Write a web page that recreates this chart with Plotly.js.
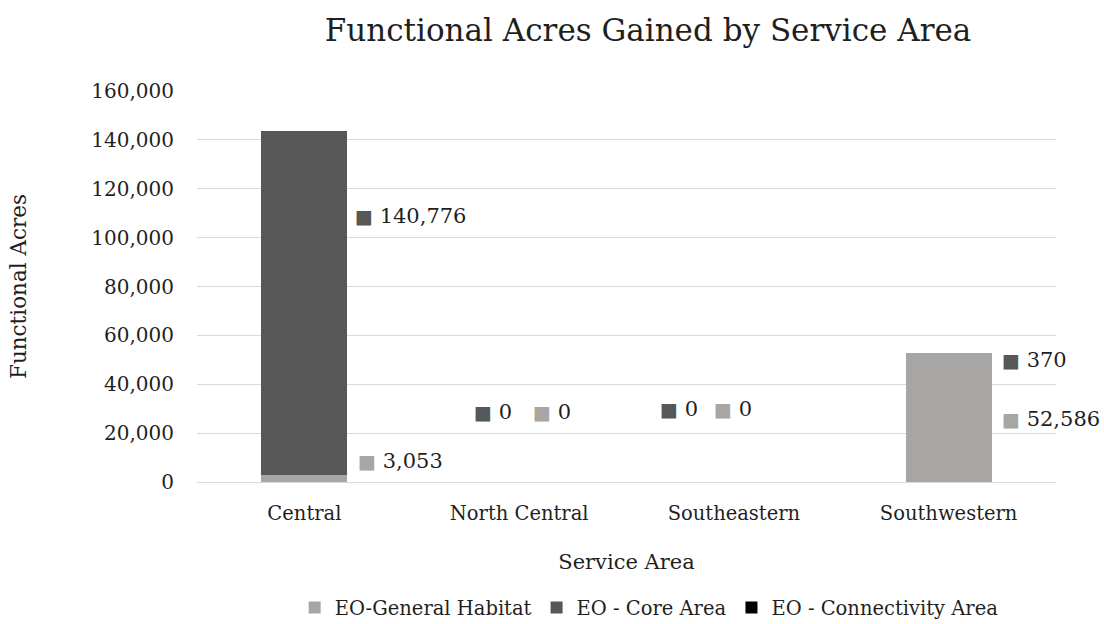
<!DOCTYPE html>
<html>
<head>
<meta charset="utf-8">
<script src="https://cdn.plot.ly/plotly-3.0.1.min.js"></script>
<style>
  html, body { margin: 0; padding: 0; background: #ffffff; }
  #chart { width: 1104px; height: 624px; }
</style>
</head>
<body>
<div id="chart"></div>
<script>
// Functional acres gained, per service area and habitat type
const categories = ['Central', 'North Central', 'Southeastern', 'Southwestern'];
const generalHabitat = [3053, 0, 0, 52586];
const coreArea = [140776, 0, 0, 370];
const connectivityArea = [0, 0, 0, 0];
const seriesNames = ['EO-General Habitat', 'EO - Core Area', 'EO - Connectivity Area'];
const yTickValues = [0, 20000, 40000, 60000, 80000, 100000, 120000, 140000, 160000];

// Value-label placement: vertical anchor (axis units) and horizontal offset (px from category centre)
const coreLabelY = [109000, 28600, 30000, 49800];
const coreLabelShift = [49, -47, -76, 51];
const generalLabelY = [8600, 28600, 30000, 25900];
const generalLabelShift = [52, 12, -22, 51];

const COLORS = { general: '#a7a6a5', core: '#575757', connectivity: '#000000' };
const FONT = 'DejaVu Serif, Liberation Serif, serif';
const TEXT = '#1f1f1f';

const fmt = v => v.toLocaleString('en-US');

const traces = [
  { name: seriesNames[0], values: generalHabitat, color: COLORS.general },
  { name: seriesNames[1], values: coreArea, color: COLORS.core },
  { name: seriesNames[2], values: connectivityArea, color: COLORS.connectivity }
].map(s => ({
  type: 'bar',
  name: s.name,
  x: categories,
  y: s.values,
  marker: { color: s.color, line: { width: 0 } },
  hoverinfo: 'skip'
}));

function valueLabel(cat, value, y, shift, color) {
  return {
    xref: 'x', yref: 'y',
    x: cat, y: y,
    xanchor: 'left', yanchor: 'middle',
    xshift: shift,
    showarrow: false,
    text: '<span style="color:' + color + ';font-size:19px">■</span> ' + fmt(value),
    font: { family: FONT, size: 21, color: TEXT }
  };
}

const annotations = [];
categories.forEach((cat, i) => {
  annotations.push(valueLabel(cat, coreArea[i], coreLabelY[i], coreLabelShift[i], COLORS.core));
  annotations.push(valueLabel(cat, generalHabitat[i], generalLabelY[i], generalLabelShift[i], COLORS.general));
});

const layout = {
  width: 1104,
  height: 624,
  paper_bgcolor: '#ffffff',
  plot_bgcolor: '#ffffff',
  barmode: 'stack',
  bargap: 0.6,
  margin: { l: 197, r: 48, t: 91, b: 142, pad: 0 },
  font: { family: FONT, color: TEXT },
  title: {
    text: 'Functional Acres Gained by Service Area',
    font: { family: FONT, size: 31, color: TEXT },
    xref: 'container', x: 0.587, xanchor: 'center',
    yref: 'container', y: 0.952, yanchor: 'middle'
  },
  xaxis: {
    type: 'category',
    range: [-0.5, categories.length - 0.5],
    autorange: false,
    showgrid: false,
    showline: false,
    ticks: '',
    ticklabelstandoff: 17,
    tickfont: { family: FONT, size: 19.5, color: TEXT },
    title: { text: 'Service Area', font: { family: FONT, size: 21, color: TEXT }, standoff: 30 }
  },
  yaxis: {
    range: [0, 160000],
    autorange: false,
    tickvals: yTickValues,
    tickformat: ',d',
    showgrid: true,
    gridcolor: '#d9d9d9',
    gridwidth: 1,
    zeroline: true,
    zerolinecolor: '#d9d9d9',
    zerolinewidth: 1,
    showline: false,
    ticks: '',
    ticklabelstandoff: 22,
    tickfont: { family: FONT, size: 20, color: TEXT },
    title: { text: 'Functional Acres', font: { family: FONT, size: 21.5, color: TEXT }, standoff: 58 }
  },
  showlegend: true,
  legend: {
    orientation: 'h',
    traceorder: 'normal',
    xref: 'container', x: 0.588, xanchor: 'center',
    yref: 'container', y: 0.026, yanchor: 'middle',
    font: { family: FONT, size: 19.5, color: TEXT },
    itemwidth: 30,
    bgcolor: 'rgba(0,0,0,0)'
  },
  annotations: annotations
};

Plotly.newPlot('chart', traces, layout, { staticPlot: true, displayModeBar: false });
</script>
</body>
</html>
